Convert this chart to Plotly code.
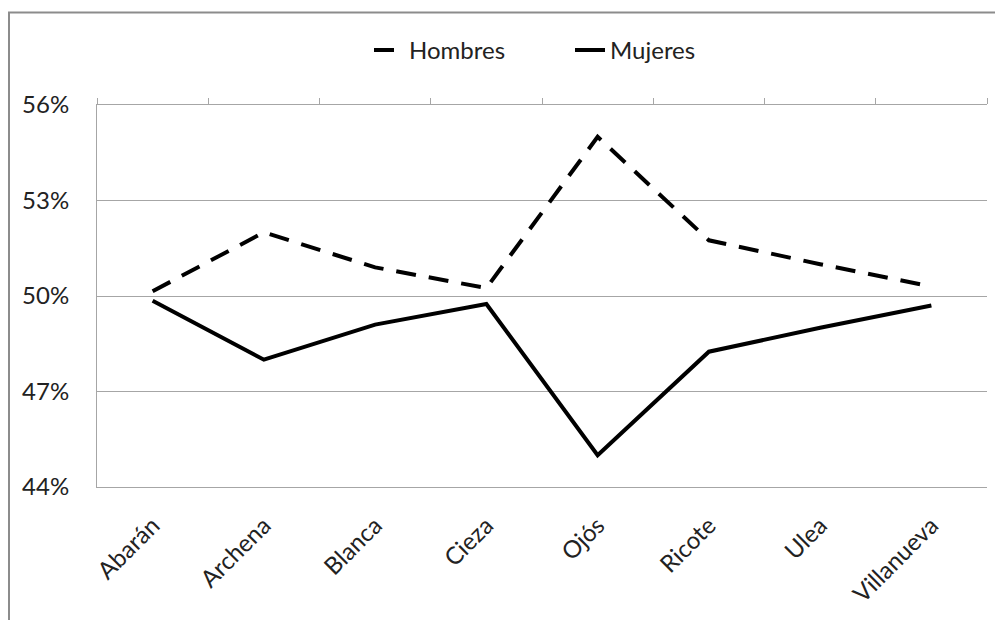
import plotly.graph_objects as go

categories = ["Abarán", "Archena", "Blanca", "Cieza", "Ojós", "Ricote", "Ulea", "Villanueva"]
hombres = [50.15, 52.0, 50.9, 50.25, 55.0, 51.75, 51.0, 50.3]
mujeres = [49.85, 48.0, 49.1, 49.75, 45.0, 48.25, 49.0, 49.7]
y_ticks = [44, 47, 50, 53, 56]
y_labels = ["44%", "47%", "50%", "53%", "56%"]

FONT = "Lato"
TXT = "#222222"
GRID = "#A6A6A6"
FS = 24

fig = go.Figure()
fig.add_trace(go.Scatter(
    x=categories, y=hombres, name="Hombres", mode="lines",
    line=dict(color="black", width=4, dash="20px,13px"),
))
fig.add_trace(go.Scatter(
    x=categories, y=mujeres, name="Mujeres", mode="lines",
    line=dict(color="black", width=4),
))

n = len(categories)
boundaries = [i - 0.5 for i in range(n + 1)]

# invisible companion trace so the top axis (line + boundary ticks) is drawn
fig.add_trace(go.Scatter(
    x=list(range(n)), y=hombres, xaxis="x2", mode="lines", opacity=0,
    showlegend=False, hoverinfo="skip",
))

fig.update_layout(
    width=995, height=612,
    margin=dict(l=89, r=16, t=97, b=131),
    paper_bgcolor="white", plot_bgcolor="white",
    font=dict(family=FONT, size=FS, color=TXT),
    showlegend=True,
    legend=dict(orientation="h", x=(369 - 97) / 890, y=1.143, xanchor="left", yanchor="middle",
                entrywidth=156, entrywidthmode="pixels",
                font=dict(family=FONT, size=FS, color=TXT),
                bgcolor="rgba(0,0,0,0)"),
    xaxis=dict(type="category", categoryorder="array", categoryarray=categories,
               range=[-0.5, n - 0.5], showgrid=False, showline=True, linecolor=GRID,
               linewidth=1, ticks="",
               tickangle=-45, ticklabelstandoff=14,
               tickfont=dict(family=FONT, size=FS, color=TXT)),
    xaxis2=dict(overlaying="x", anchor="y", side="top", range=[-0.5, n - 0.5],
                tickmode="array", tickvals=boundaries, ticks="outside", ticklen=6,
                tickcolor=GRID, showticklabels=False, showgrid=False,
                showline=True, linecolor=GRID, linewidth=1, zeroline=False),
    yaxis=dict(range=[44, 56], tickmode="array", tickvals=y_ticks, ticktext=y_labels,
               showgrid=True, gridcolor=GRID, gridwidth=1, zeroline=False,
               showline=True, linecolor=GRID, linewidth=1, ticks="",
               ticklabelstandoff=22,
               tickfont=dict(family=FONT, size=FS, color=TXT)),
)

# outer chart border (partially cropped on right and bottom)
fig.add_shape(type="rect", xref="paper", yref="paper",
              x0=(9 - 97) / 890, x1=1.1, y0=-0.6, y1=(489 - 12) / 384,
              line=dict(color="#8C8C8C", width=2), layer="below")

fig.write_html("out.html")
